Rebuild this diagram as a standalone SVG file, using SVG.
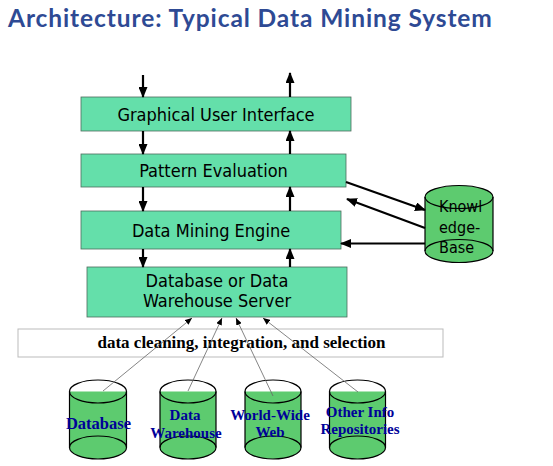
<svg xmlns="http://www.w3.org/2000/svg" width="553" height="466" viewBox="0 0 553 466">
<style>
.box{fill:#64dfaa;stroke:#4d6b5c;stroke-width:0.8}
.bt{font-family:"DejaVu Sans Condensed","DejaVu Sans",sans-serif;font-size:18px;fill:#000;text-anchor:middle}
.kt{font-family:"DejaVu Sans Condensed","DejaVu Sans",sans-serif;font-size:16px;fill:#000}
.cyl{fill:#5dcb6f;stroke:none}
.cs{fill:none;stroke:#000;stroke-width:1.2}
.st{font-family:"Liberation Serif","Times New Roman",serif;font-weight:bold;font-size:15px;fill:#000099;text-anchor:middle}
.thick{stroke:#000;stroke-width:2.2;fill:none;marker-end:url(#ah)}
.thin{stroke:#666;stroke-width:0.8;fill:none;marker-end:url(#sh)}
</style>
<defs>
<marker id="ah" markerUnits="userSpaceOnUse" markerWidth="11" markerHeight="9" refX="10" refY="4.5" orient="auto">
<path d="M0,0 L11,4.5 L0,9 z" fill="#000"/>
</marker>
<marker id="sh" markerUnits="userSpaceOnUse" markerWidth="7" markerHeight="6" refX="7" refY="3" orient="auto">
<path d="M0,0 L7,3 L0,6 z" fill="#000"/>
</marker>
</defs>
<rect width="553" height="466" fill="#fff"/>
<text x="8" y="27" font-family="Lato,'Open Sans',sans-serif" font-weight="bold" font-size="24.5" letter-spacing="0.9" fill="#2e4a94">Architecture: Typical Data Mining System</text>

<g id="gui"><rect class="box" x="81" y="97" width="270" height="34"/><text class="bt" x="216" y="121">Graphical User Interface</text></g>
<g id="pattern"><rect class="box" x="81" y="154" width="265" height="33"/><text class="bt" x="213.5" y="177">Pattern Evaluation</text></g>
<g id="engine"><rect class="box" x="81" y="211" width="260" height="38"/><text class="bt" x="211" y="236.5">Data Mining Engine</text></g>
<g id="server"><rect class="box" x="87" y="267" width="260" height="50"/><text class="bt" x="217" y="286.5">Database or Data</text><text class="bt" x="217" y="306.5">Warehouse Server</text></g>
<g id="cleaning"><rect x="18" y="329" width="425" height="28" fill="#fff" stroke="#bbb" stroke-width="1"/><text x="241.5" y="348" font-family="Liberation Serif,'Times New Roman',serif" font-weight="bold" font-size="17" text-anchor="middle" fill="#000">data cleaning, integration, and selection</text></g>

<g id="kb">
<rect class="cyl" x="425" y="197" width="68" height="54"/>
<ellipse class="cyl" cx="459" cy="251" rx="34" ry="11.5"/>
<ellipse class="cyl" cx="459" cy="197" rx="34" ry="11.5"/>
<text class="kt" x="439" y="212">Knowl</text><text class="kt" x="439" y="233">edge-</text><text class="kt" x="439" y="253">Base</text>
<path class="cs" d="M425,197 V251 M493,197 V251"/>
<ellipse class="cs" cx="459" cy="197" rx="34" ry="11.5"/>
<ellipse class="cs" cx="459" cy="251" rx="34" ry="11.5"/>
</g>

<g id="database">
<rect class="cyl" x="69.5" y="391.5" width="57" height="56"/>
<ellipse class="cyl" cx="98" cy="447.5" rx="28.5" ry="11.5"/>
<path class="cs" d="M69.5,391.5 V447.5 M126.5,391.5 V447.5"/>
<ellipse class="cs" cx="98" cy="391.5" rx="28.5" ry="11.5"/>
<ellipse class="cs" cx="98" cy="447.5" rx="28.5" ry="11.5"/>
<text class="st" x="98.5" y="429" style="font-size:16.5px">Database</text>
</g>
<g id="warehouse">
<rect class="cyl" x="160" y="391.5" width="56" height="56"/>
<ellipse class="cyl" cx="188" cy="447.5" rx="28" ry="11.5"/>
<path class="cs" d="M160,391.5 V447.5 M216,391.5 V447.5"/>
<ellipse class="cs" cx="188" cy="391.5" rx="28" ry="11.5"/>
<ellipse class="cs" cx="188" cy="447.5" rx="28" ry="11.5"/>
<text class="st" x="185" y="420">Data</text><text class="st" x="186" y="438">Warehouse</text>
</g>
<g id="www">
<rect class="cyl" x="245" y="391.5" width="56" height="56"/>
<ellipse class="cyl" cx="273" cy="447.5" rx="28" ry="11.5"/>
<path class="cs" d="M245,391.5 V447.5 M301,391.5 V447.5"/>
<ellipse class="cs" cx="273" cy="391.5" rx="28" ry="11.5"/>
<ellipse class="cs" cx="273" cy="447.5" rx="28" ry="11.5"/>
<text class="st" x="270" y="420">World-Wide</text><text class="st" x="270" y="437">Web</text>
</g>
<g id="other">
<rect class="cyl" x="329.5" y="391.5" width="56" height="56"/>
<ellipse class="cyl" cx="357.5" cy="447.5" rx="28" ry="11.5"/>
<path class="cs" d="M329.5,391.5 V447.5 M385.5,391.5 V447.5"/>
<ellipse class="cs" cx="357.5" cy="391.5" rx="28" ry="11.5"/>
<ellipse class="cs" cx="357.5" cy="447.5" rx="28" ry="11.5"/>
<text class="st" x="360" y="417">Other Info</text><text class="st" x="360" y="434">Repositories</text>
</g>

<g id="connectors">
<line class="thick" x1="143" y1="75" x2="143" y2="97"/>
<line class="thick" x1="290" y1="97" x2="290" y2="73"/>
<line class="thick" x1="143" y1="131" x2="143" y2="154"/>
<line class="thick" x1="290" y1="154" x2="290" y2="131"/>
<line class="thick" x1="143" y1="187" x2="143" y2="211"/>
<line class="thick" x1="290" y1="211" x2="290" y2="187"/>
<line class="thick" x1="143" y1="249" x2="143" y2="267"/>
<line class="thick" x1="290" y1="267" x2="290" y2="249"/>
<line class="thick" x1="346" y1="182" x2="425" y2="210"/>
<line class="thick" x1="425" y1="228" x2="347" y2="199"/>
<line class="thick" x1="425" y1="243.5" x2="341" y2="243.5"/>
<line class="thin" x1="103" y1="391" x2="192" y2="318"/>
<line class="thin" x1="188" y1="391" x2="222" y2="318"/>
<line class="thin" x1="273" y1="396" x2="236" y2="318"/>
<line class="thin" x1="358" y1="392" x2="263" y2="318"/>
</g>
</svg>
